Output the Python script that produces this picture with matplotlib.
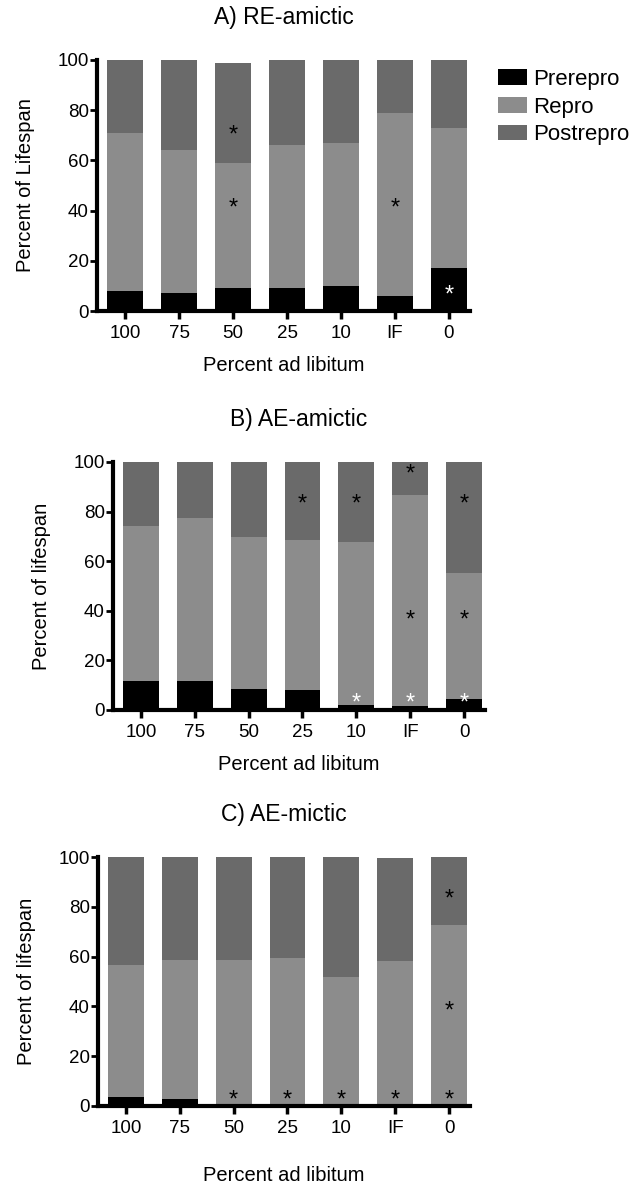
import matplotlib
matplotlib.use("Agg")
import matplotlib.pyplot as plt
import numpy as np

plt.rcParams['font.family'] = ['Liberation Sans', 'DejaVu Sans']

categories = ["100", "75", "50", "25", "10", "IF", "0"]
series_names = ["Prerepro", "Repro", "Postrepro"]
colors = ["#000000", "#8c8c8c", "#6a6a6a"]

titles = ["A) RE-amictic", "B) AE-amictic", "C) AE-mictic"]
ylabels = ["Percent of Lifespan", "Percent of lifespan", "Percent of lifespan"]
xlabel = "Percent ad libitum"

# Panel A
a_pre = [8, 7, 9, 9, 10, 6, 17]
a_repro = [63, 57, 50, 57, 57, 73, 56]
a_post = [29, 36, 40, 34, 33, 21, 27]
# Panel B
b_pre = [11.5, 11.5, 8.3, 8.2, 1.9, 1.8, 4.4]
b_repro = [62.6, 66.0, 61.5, 60.3, 65.9, 84.8, 50.8]
b_post = [25.9, 22.5, 30.2, 31.5, 32.2, 13.4, 44.8]
# Panel C
c_pre = [3.8, 2.9, 0, 0, 0, 0, 0]
c_repro = [53.0, 55.9, 58.6, 59.5, 51.8, 58.4, 72.5]
c_post = [43.2, 41.2, 41.4, 40.5, 48.2, 41.1, 27.5]

# significance stars: (category index, y value, colour)
a_stars = [(2, 70, "black"), (2, 41, "black"), (5, 41, "black"), (6, 6, "white")]
b_stars = [(3, 83, "black"), (4, 83, "black"), (4, 2.5, "white"),
           (5, 95, "black"), (5, 36, "black"), (5, 2.5, "white"),
           (6, 83, "black"), (6, 36, "black"), (6, 2.5, "white")]
c_stars = [(2, 2, "black"), (3, 2, "black"), (4, 2, "black"), (5, 2, "black"),
           (6, 83, "black"), (6, 38, "black"), (6, 2, "black")]

panels = [
    (a_pre, a_repro, a_post, a_stars),
    (b_pre, b_repro, b_post, b_stars),
    (c_pre, c_repro, c_post, c_stars),
]

W, H = 635, 1183
fig = plt.figure(figsize=(W / 100, H / 100), dpi=100)

# axes rectangles in pixels: left, top, right, bottom
rects = [(97, 60, 470, 311), (113, 462, 485, 710), (98, 857, 470, 1106)]
xlabel_pads = [10, 10, 21]

legend_handles = None
for i, ((pre, repro, post, stars), (l, t, r, b)) in enumerate(zip(panels, rects)):
    ax = fig.add_axes([l / W, 1 - b / H, (r - l) / W, (b - t) / H])
    x = np.arange(len(categories))
    bottoms = np.zeros(len(categories))
    handles = []
    for vals, col, name in zip([pre, repro, post], colors, series_names):
        bc = ax.bar(x, vals, width=0.667, bottom=bottoms, color=col,
                    edgecolor="none", label=name, zorder=2)
        handles.append(bc)
        bottoms = bottoms + np.array(vals)
    if legend_handles is None:
        legend_handles = handles
    for (xi, yv, col) in stars:
        ax.text(xi, yv, "*", ha="center", va="center", color=col,
                fontsize=17, zorder=3)
    ax.set_xlim(-0.52, 6.39)
    ax.set_ylim(0, 100)
    ax.set_xticks(x)
    ax.set_xticklabels(categories)
    ax.set_yticks([0, 20, 40, 60, 80, 100])
    for s in ["top", "right"]:
        ax.spines[s].set_visible(False)
    for s in ["left", "bottom"]:
        ax.spines[s].set_linewidth(3)
        ax.spines[s].set_capstyle("projecting")
    ax.tick_params(axis="x", direction="out", length=6, width=2.5,
                   labelsize=13.5, pad=4)
    ax.tick_params(axis="y", direction="out", length=5, width=2,
                   labelsize=13.5, pad=1)
    ax.set_xlabel(xlabel, fontsize=14.5, labelpad=xlabel_pads[i])
    ax.set_ylabel(ylabels[i], fontsize=14.5, labelpad=16)
    ax.set_title(titles[i], fontsize=16.5, pad=26)

fig.legend(legend_handles, series_names, loc="upper left",
           bbox_to_anchor=(498 / W, 1 - 69 / H), borderaxespad=0, borderpad=0,
           frameon=False, fontsize=16, handlelength=1.3, handleheight=0.72,
           handletextpad=0.3, labelspacing=0.3)

fig.savefig("out.png", dpi=100)
